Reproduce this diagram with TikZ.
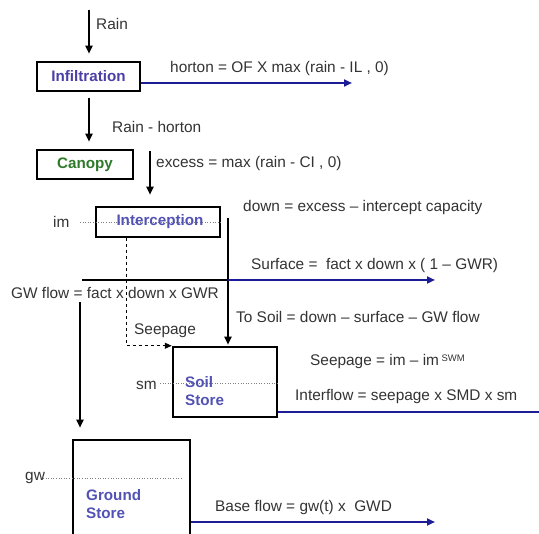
\documentclass[tikz,border=0pt]{standalone}
\usepackage{fontspec}
\setmainfont{Liberation Sans}
\usetikzlibrary{arrows.meta,calc}
\definecolor{txt}{HTML}{333333}
\definecolor{navy}{HTML}{1C1C96}
\definecolor{purp}{HTML}{4B3FA6}
\definecolor{grn}{HTML}{2E7A2A}
\definecolor{boxblue}{HTML}{5252B4}
\begin{document}
\begin{tikzpicture}[x=1pt,y=-1pt,
  font=\fontsize{15.4}{18}\selectfont,
  store/.style={draw=black,line width=2.5pt,inner sep=0pt,font=\fontsize{15.2}{18}\selectfont\bfseries},
  boxtxt/.style={anchor=west,inner sep=0pt,text=boxblue,font=\fontsize{15.2}{18}\selectfont\bfseries},
  lab/.style={anchor=west,text=txt,inner sep=0pt},
  flow/.style={line width=2pt,-{Triangle[length=8pt,width=7pt]}},
  outflow/.style={line width=2pt,draw=navy,-{Triangle[length=8pt,width=7pt]}},
  guide/.style={draw=gray,line width=0.6pt,dotted}]
\useasboundingbox (0,0) rectangle (539,534);
\clip (0,0) rectangle (539,534);
% boxes
\node[store,minimum width=103pt,minimum height=29pt,text=purp] (infil) at (88.5,76.5) {Infiltration};
\node[store,minimum width=96pt,minimum height=29pt,text=grn] (canopy) at (85,164.5) {Canopy};
\node[store,minimum width=124pt,minimum height=30pt] (inter) at (158,222) {};
\node[store,minimum width=104pt,minimum height=70pt] (soil) at (225,382) {};
\node[store,minimum width=117pt,minimum height=120pt] (ground) at (131.5,500) {};
% guide lines
\coordinate (imL) at (80,222);
\coordinate (smL) at (160,383);
\coordinate (gwL) at (43,478);
\draw[guide] (imL) -- (imL -| inter.east);
\draw[guide] (smL) -- (smL -| soil.east);
\draw[guide] (gwL) -- ($(gwL -| ground.east)+(-8,0)$);
% box texts
\node[boxtxt,anchor=center] (intertxt) at ($(inter.center)+(2,0)$) {Interception};
\node[boxtxt] (soiltxt1) at (185,382) {Soil};
\node[boxtxt] (soiltxt2) at (185,400) {Store};
\node[boxtxt] (gtxt1) at (86,495) {Ground};
\node[boxtxt] (gtxt2) at (86,513) {Store};
% vertical arrows
\coordinate (rain) at (89,10);
\draw[flow,shorten >=7pt] (rain) -- (rain |- infil.north);
\draw[flow,shorten <=6pt,shorten >=7pt] (infil.south -| rain) -- (canopy.north -| rain);
\coordinate (exc) at (150,151);
\draw[flow,shorten >=11pt] (exc) -- (exc |- inter.north);
\coordinate (dtop) at (228,218);
\draw[flow,shorten >=1pt] (dtop) -- (dtop |- soil.north);
% split line
\coordinate (splitL) at (82,280);
\coordinate (splitM) at (228,280);
\coordinate (surfEnd) at (435,280);
\draw[line width=2pt] (splitL) -- (splitM);
\draw[outflow] (splitM) -- (surfEnd);
% GW flow arrow
\coordinate (gwtop) at (80,302);
\draw[flow,shorten >=11pt] (gwtop) -- (gwtop |- ground.north);
% seepage dashed
\coordinate (seepx) at (126,0);
\draw[line width=1pt,dashed,-{Triangle[length=7pt,width=6pt]}] (inter.south -| seepx) |- (soil.north west);
% outflows
\coordinate (hend) at (352,83);
\draw[outflow] (hend -| infil.east) -- (hend);
\coordinate (iend) at (560,412);
\draw[outflow] (iend -| soil.east) -- (iend);
\coordinate (bend) at (435,522);
\draw[outflow] (bend -| ground.east) -- (bend);
% labels
\node[lab] (lrain) at (96,24) {Rain};
\node[lab] (lhorton) at (170,69) {horton = OF X max (rain - IL , 0)};
\node[lab] (lrh) at (112,127) {Rain - horton};
\node[lab] (lexc) at (156,164) {excess = max (rain - CI , 0)};
\node[lab] (ldown) at (243,208) {down = excess -- intercept capacity};
\node[lab] (lim) at (53,222) {im};
\node[lab] (lsurf) at (251,266) {Surface =\ \ fact x down x ( 1 -- GWR)};
\node[lab] (lgw) at (11,293) {GW flow = fact x down x GWR};
\node[lab] (lsoil) at (236,317) {To Soil = down -- surface -- GW flow};
\node[lab] (lseep) at (134,331) {Seepage};
\node[lab] (lseepeq) at (310,362) {Seepage = im -- im\,\raisebox{0.55ex}{\fontsize{9.5}{11}\selectfont SWM}};
\node[lab] (linter) at (295,397) {Interflow = seepage x SMD x sm};
\node[lab] (lsm) at (136,385) {sm};
\node[lab] (lgwv) at (25,478) {gw};
\node[lab] (lbase) at (215,508) {Base flow = gw(t) x\ \ GWD};
\end{tikzpicture}
\end{document}
